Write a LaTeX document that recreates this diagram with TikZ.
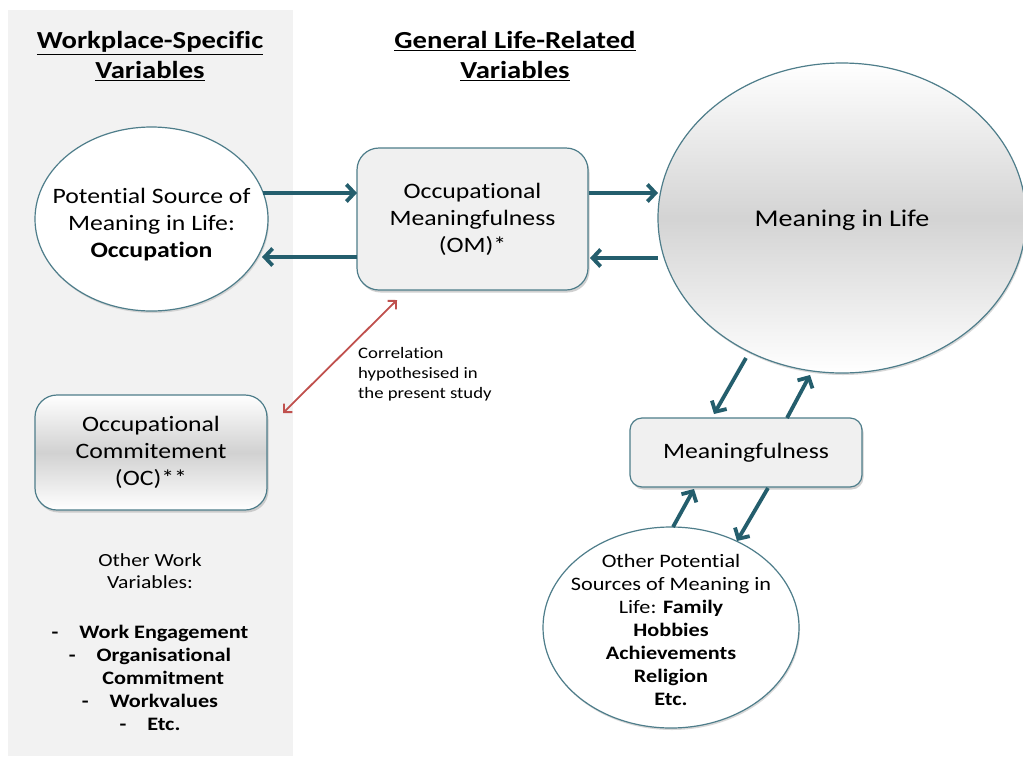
\documentclass[tikz,border=0pt]{standalone}
\usepackage{fontspec}
\setmainfont{Carlito}[FakeStretch=1.17,RawFeature={-liga}]
\usetikzlibrary{arrows.meta,shapes.geometric,shadows}
\definecolor{teal1}{HTML}{245E6D}
\definecolor{edge1}{HTML}{4E7D8A}
\definecolor{panel}{HTML}{F2F2F2}
\definecolor{boxfill}{HTML}{F0F0F0}
\definecolor{redarr}{HTML}{C0504D}
\begin{document}
\begin{tikzpicture}[x=1pt,y=-1pt,
  conn/.style={draw=teal1,line width=3.8pt,-{Straight Barb[length=8pt,width=17pt,line width=3.8pt]}},
  rbox/.style={draw=edge1,line width=1.2pt,rounded corners=22pt,align=center,inner sep=0pt,
     drop shadow={shadow xshift=1.5pt,shadow yshift=-2.5pt,fill=black!30,opacity=0.6}},
  ell/.style={ellipse,draw=edge1,line width=1.2pt,fill=white,inner sep=0pt,
     drop shadow={shadow xshift=1pt,shadow yshift=-2pt,fill=black!25,opacity=0.6}},
  ttl/.style={font=\fontsize{24.5}{30}\selectfont\bfseries,align=center},
  txt/.style={font=\fontsize{22}{27}\selectfont,align=center}]
\useasboundingbox (0,0) rectangle (1023,756);
\fill[white] (0,0) rectangle (1023,756);
\fill[panel] (8,10) rectangle (293,756);
% titles
\node[ttl] (t1) at (150,56) {\underline{Workplace-Specific}\\\underline{Variables}};
\node[ttl] (t2) at (515,56) {\underline{General Life-Related}\\\underline{Variables}};
% nodes
\node[ell,minimum width=233pt,minimum height=184pt] (src) at (151.5,219) {};
\node[txt] (srct) at (151.5,225) {Potential Source of\\Meaning in Life:\\\textbf{Occupation}};
\node[rbox,fill=boxfill,minimum width=231pt,minimum height=142pt,txt] (om) at (472.5,219)
  {Occupational\\Meaningfulness\\(OM)*};
\node[ell,minimum width=368pt,minimum height=310pt,
  top color=white,bottom color=white,middle color=black!17] (mil) at (842,218) {};
\node[font=\fontsize{24}{29}\selectfont] (milt) at (842,220) {Meaning in Life};
\node[rbox,rounded corners=12pt,fill=boxfill,minimum width=232pt,minimum height=69pt,txt] (mf) at (746,452.5)
  {Meaningfulness};
\node[rbox,top color=white,bottom color=white,middle color=black!18,minimum width=232pt,minimum height=115pt,txt] (oc) at (151,452.5)
  {Occupational\\Commitement\\(OC)**};
\node[ell,minimum width=256pt,minimum height=201pt] (oth) at (671,627.5) {};
\node[font=\fontsize{19}{23}\selectfont,align=center] (otht) at (671,630)
  {Other Potential\\Sources of Meaning in\\Life: \textbf{Family}\\\textbf{Hobbies}\\\textbf{Achievements}\\\textbf{Religion}\\\textbf{Etc.}};
% texts
\node[font=\fontsize{16}{20}\selectfont,align=left,anchor=north west,inner sep=0pt] (corr) at (358,347)
  {Correlation\\hypothesised in\\the present study};
\node[font=\fontsize{18.5}{22}\selectfont,align=center] (ow) at (150,571) {Other Work\\Variables:};
\node[font=\fontsize{19}{23}\selectfont\bfseries,align=center] (lst) at (150,678)
  {-\hspace{1.1em}Work Engagement\\-\hspace{1.1em}Organisational\\\hspace{1.4em}Commitment\\-\hspace{1.1em}Workvalues\\-\hspace{1.1em}Etc.};
% connectors
\coordinate (a1s) at (263,193); \coordinate (a1e) at (357,193);
\coordinate (a2s) at (357,257); \coordinate (a2e) at (262,257);
\coordinate (a3s) at (589,193); \coordinate (a3e) at (658,193);
\coordinate (a4s) at (658,258); \coordinate (a4e) at (590,258);
\draw[conn] (a1s) -- (a1e);
\draw[conn] (a2s) -- (a2e);
\draw[conn] (a3s) -- (a3e);
\draw[conn] (a4s) -- (a4e);
\coordinate (b1s) at (746,358); \coordinate (b1e) at (714,414);
\coordinate (b2s) at (787,418); \coordinate (b2e) at (810,375);
\coordinate (c1s) at (673,527); \coordinate (c1e) at (694,489);
\coordinate (c2s) at (768,488); \coordinate (c2e) at (737,541);
\draw[conn] (b1s) -- (b1e);
\draw[conn] (b2s) -- (b2e);
\draw[conn] (c1s) -- (c1e);
\draw[conn] (c2s) -- (c2e);
\coordinate (r1) at (283,413); \coordinate (r2) at (397,300);
\draw[redarr,line width=1.8pt,{Straight Barb[length=6pt,width=12pt,line width=1.8pt]}-{Straight Barb[length=6pt,width=12pt,line width=1.8pt]}] (r1) -- (r2);
\end{tikzpicture}
\end{document}
